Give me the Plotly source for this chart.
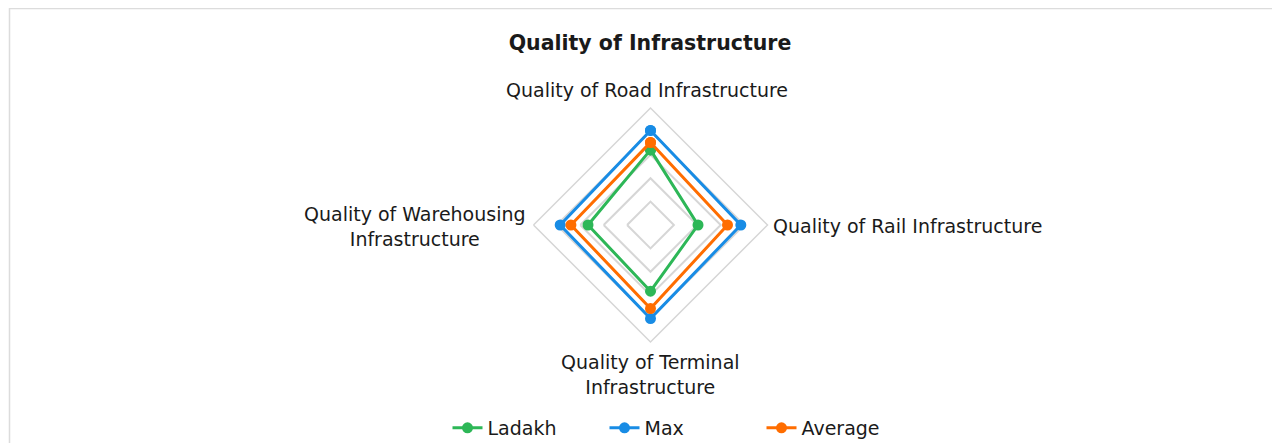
import plotly.graph_objects as go

categories = ["Quality of Road Infrastructure", "Quality of Rail Infrastructure",
              "Quality of Terminal Infrastructure", "Quality of Warehousing Infrastructure"]
category_labels = ["Quality of Road Infrastructure", "Quality of Rail Infrastructure",
                   "Quality of Terminal<br>Infrastructure", "Quality of Warehousing<br>Infrastructure"]
ladakh = [3.21, 2.03, 2.83, 2.67]
max_vals = [4.04, 3.86, 4.0, 3.86]
average = [3.53, 3.29, 3.57, 3.40]
series_names = ["Ladakh", "Max", "Average"]
colors = ["#2DB757", "#188CE5", "#FF6D00"]

W, H = 1280, 443
# page is drawn with an 8px body offset; positions below are in figure pixels
cx, cy, R = 642.5, 217, 117

FONT = "DejaVu Sans, Noto Sans, sans-serif"
TXT = "#1a1a1a"

fig = go.Figure()
for name, vals, col in zip(series_names, [ladakh, max_vals, average], colors):
    fig.add_trace(go.Scatterpolar(
        r=vals + [vals[0]], theta=categories + [categories[0]], name=name,
        mode="lines+markers", line=dict(color=col, width=3),
        marker=dict(color=col, size=11)))

# category label placement (figure px): (x, y, xanchor)
label_pos = [(639, 82, "center"), (763, 218, "left"), (642, 366.5, "center"), (407, 218.5, "center")]
annotations = []
for text, (px, py, xa) in zip(category_labels, label_pos):
    annotations.append(dict(text=text, xref="paper", yref="paper", x=px / W, y=1 - py / H,
                            xanchor=xa, yanchor="middle", showarrow=False, align="center",
                            font=dict(family=FONT, size=19, color=TXT)))

fig.update_layout(
    width=W, height=H,
    margin=dict(l=0, r=0, t=0, b=0),
    paper_bgcolor="white", plot_bgcolor="white",
    font=dict(family=FONT, size=19, color=TXT),
    title=dict(text="Quality of Infrastructure", x=642 / W, xanchor="center",
               y=1 - 35 / H, yanchor="middle",
               font=dict(family=FONT, size=20.5, weight="bold", color=TXT)),
    polar=dict(
        domain=dict(x=[(cx - R) / W, (cx + R) / W], y=[(H - cy - R) / H, (H - cy + R) / H]),
        gridshape="linear", bgcolor="white",
        radialaxis=dict(range=[0, 5], dtick=1, showticklabels=False, ticks="",
                        showline=False, gridcolor="#d6d6d6", gridwidth=1.5),
        angularaxis=dict(rotation=90, direction="clockwise", showgrid=False,
                         showline=True, linecolor="#d6d6d6", linewidth=1.5, ticks="",
                         showticklabels=False),
    ),
    annotations=annotations,
    legend=dict(orientation="h", x=675 / W, xanchor="center", y=1 - 420 / H, yanchor="middle",
                font=dict(family=FONT, size=19, color=TXT),
                entrywidthmode="pixels", entrywidth=112),
    showlegend=True,
    shapes=[dict(type="rect", xref="paper", yref="paper", x0=1.5 / W, x1=1.01,
                 y0=-0.05, y1=1 - 0.5 / H, line=dict(color="#dcdcdc", width=1.5),
                 fillcolor="rgba(0,0,0,0)", layer="below")],
)

fig.write_html("out.html")
